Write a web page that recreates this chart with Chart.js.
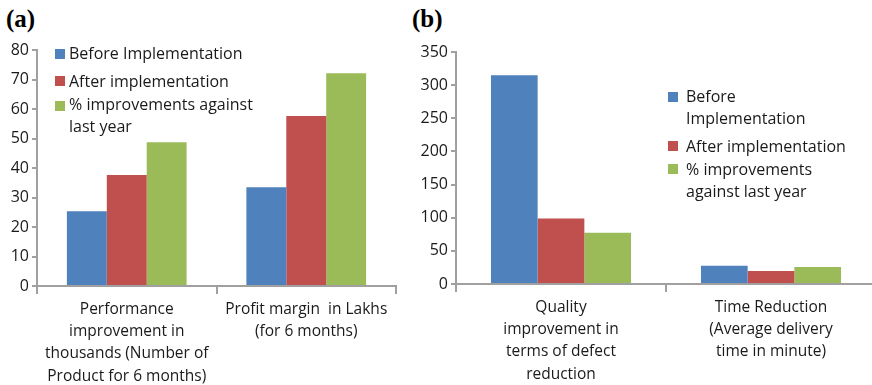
<!DOCTYPE html>
<html>
<head>
<meta charset="utf-8">
<script src="https://cdn.jsdelivr.net/npm/chart.js@4"></script>
<style>
  body { margin: 0; width: 872px; height: 385px; overflow: hidden; background: #fff; position: relative;
         font-family: "Open Sans", sans-serif; color: #1a1a1a; }
  .box { position: absolute; }
  .title { position: absolute; font-family: "Liberation Serif", serif; font-weight: bold; font-size: 25px; color: #000; }
  .lg { position: absolute; font-size: 16px; line-height: 22px; color: #1a1a1a; white-space: nowrap; }
  .sw { position: absolute; width: 10px; height: 10px; }
</style>
</head>
<body>
<div class="title" style="left:6px;top:5px">(a)</div>
<div class="title" style="left:412px;top:5px">(b)</div>

<div class="box" style="left:0;top:0;width:420px;height:385px"><canvas id="chartA"></canvas></div>
<div class="box" style="left:400px;top:0;width:476px;height:385px"><canvas id="chartB"></canvas></div>

<div id="legendA"></div>
<div id="legendB"></div>

<script>
const seriesNames = ['Before Implementation', 'After implementation', '% improvements against last year'];
const seriesColors = ['#4F81BD', '#C0504D', '#9BBB59'];

const labelsA = [
    ['Performance', 'improvement in', 'thousands (Number of', 'Product for 6 months)'],
    ['Profit margin  in Lakhs', '(for 6 months)']
];
const beforeA = [25.3, 33.5];
const afterA = [37.6, 57.6];
const improveA = [48.7, 72.1];

const labelsB = [
    ['Quality', 'improvement in', 'terms of defect', 'reduction'],
    ['Time Reduction', '(Average delivery', 'time in minute)']
];
const beforeB = [315, 27.6];
const afterB = [99, 19.6];
const improveB = [77.4, 25.6];

const axisColor = '#a0a0a0';
const tickFont = { family: 'Open Sans', size: 16 };

function makeChart(el, labels, values, yMax, yStep, yWidth, padRight, padTop, plotH) {
    return new Chart(document.getElementById(el), {
        type: 'bar',
        data: {
            labels: labels,
            datasets: values.map((v, i) => ({
                label: seriesNames[i],
                data: v,
                backgroundColor: seriesColors[i],
                borderWidth: 0,
                barPercentage: 1,
                categoryPercentage: 0.667
            }))
        },
        options: {
            responsive: true,
            maintainAspectRatio: false,
            animation: false,
            layout: { padding: { left: 0, right: padRight, top: padTop, bottom: 0 } },
            plugins: { legend: { display: false }, tooltip: { enabled: false } },
            scales: {
                x: {
                    grid: { display: true, drawOnChartArea: false, offset: true, color: axisColor, lineWidth: 2, tickLength: 8 },
                    border: { color: axisColor, width: 2 },
                    ticks: { color: '#1a1a1a', font: { ...tickFont, size: 15.5, lineHeight: 1.44 }, autoSkip: false, maxRotation: 0, padding: 4 },
                    afterFit: s => { s.height = 385 - padTop - plotH; }
                },
                y: {
                    min: 0, max: yMax,
                    grid: { display: true, drawOnChartArea: false, color: axisColor, lineWidth: 2, tickLength: 5 },
                    border: { color: axisColor, width: 2 },
                    ticks: { stepSize: yStep, color: '#1a1a1a', font: tickFont, padding: 3 },
                    afterFit: s => { s.width = yWidth; }
                }
            }
        }
    });
}

makeChart('chartA', labelsA, [beforeA, afterA, improveA], 80, 10, 37, 24, 50, 236);
makeChart('chartB', labelsB, [beforeB, afterB, improveB], 350, 50, 56, 0, 52, 232);

// HTML legends
function legend(id, items) {
    const host = document.getElementById(id);
    items.forEach(it => {
        const sw = document.createElement('div');
        sw.className = 'sw';
        sw.style.left = it.bx + 'px';
        sw.style.top = it.by + 'px';
        sw.style.background = it.color;
        host.appendChild(sw);
        const t = document.createElement('div');
        t.className = 'lg';
        t.style.left = it.tx + 'px';
        t.style.top = it.ty + 'px';
        t.innerHTML = it.lines.join('<br>');
        host.appendChild(t);
    });
}
legend('legendA', [
    { color: seriesColors[0], bx: 55, by: 49, tx: 69, ty: 42, lines: ['Before Implementation'] },
    { color: seriesColors[1], bx: 55, by: 76, tx: 69, ty: 70, lines: ['After implementation'] },
    { color: seriesColors[2], bx: 55, by: 101, tx: 69, ty: 93, lines: ['% improvements against', 'last year'] }
]);
legend('legendB', [
    { color: seriesColors[0], bx: 668, by: 92, tx: 686, ty: 85, lines: ['Before', 'Implementation'] },
    { color: seriesColors[1], bx: 668, by: 141, tx: 686, ty: 135, lines: ['After implementation'] },
    { color: seriesColors[2], bx: 668, by: 164, tx: 686, ty: 158, lines: ['% improvements', 'against last year'] }
]);
</script>
</body>
</html>
